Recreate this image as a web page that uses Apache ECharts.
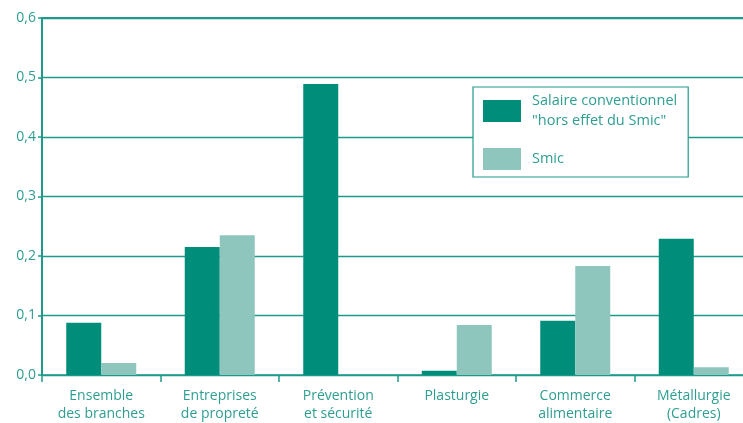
<!DOCTYPE html>
<html>
<head>
<meta charset="utf-8">
<script src="https://cdn.jsdelivr.net/npm/echarts@6/dist/echarts.min.js"></script>
<style>
  html, body { margin: 0; padding: 0; background: #fff; }
  #chart { width: 743px; height: 423px; }
</style>
</head>
<body>
<div id="chart"></div>
<script>
// categories
var categories = ['Ensemble\ndes branches', 'Entreprises\nde propreté', 'Prévention\net sécurité', 'Plasturgie', 'Commerce\nalimentaire', 'Métallurgie\n(Cadres)'];
// series values
var salaireData = [0.088, 0.215, 0.489, 0.007, 0.091, 0.229];
var smicData = [0.020, 0.235, 0, 0.084, 0.183, 0.013];
var seriesNames = ['Salaire conventionnel', 'Smic'];

var teal = '#1e9a8a';
var textColor = '#2e9e90';
var font = '"Open Sans", "Noto Sans", sans-serif';

var chart = echarts.init(document.getElementById('chart'));

var option = {
  animation: false,
  textStyle: { fontFamily: font },
  grid: {
    left: 42,
    width: 711,
    top: 18,
    bottom: 48,
    outerBoundsMode: 'none',
    containLabel: false
  },
  legend: {
    orient: 'vertical',
    left: 473,
    top: 87,
    padding: [1, 11, 5, 10],
    borderColor: teal,
    borderWidth: 1.2,
    backgroundColor: '#fff',
    itemWidth: 38,
    itemHeight: 22,
    itemGap: 12,
    icon: 'rect',
    data: seriesNames,
    formatter: function (name) {
      if (name === 'Salaire conventionnel') return 'Salaire conventionnel\n"hors effet du Smic"';
      return name;
    },
    textStyle: {
      color: textColor,
      fontSize: 14.5,
      lineHeight: 20,
      padding: [6, 0, 0, 6]
    }
  },
  xAxis: [{
    type: 'category',
    data: categories,
    axisLine: { show: true, lineStyle: { color: teal, width: 1.5 } },
    axisTick: { show: true, alignWithLabel: false, length: 7, lineStyle: { color: teal, width: 1.5 } },
    axisLabel: {
      color: textColor,
      fontSize: 14,
      lineHeight: 18,
      margin: 12,
      interval: 0
    },
    splitLine: { show: false }
  }, {
    type: 'category',
    position: 'top',
    data: categories,
    axisLine: { show: true, lineStyle: { color: teal, width: 2 } },
    axisTick: { show: false },
    axisLabel: { show: false }
  }],
  yAxis: {
    type: 'value',
    min: 0,
    max: 0.6,
    interval: 0.1,
    axisLine: { show: true, lineStyle: { color: teal, width: 2 } },
    axisTick: { show: true, length: 4, lineStyle: { color: teal, width: 1.5 } },
    axisLabel: {
      color: textColor,
      fontSize: 14,
      margin: 6,
      formatter: function (v) { return v.toFixed(1).replace('.', ','); }
    },
    splitLine: { show: true, lineStyle: { color: teal, width: 1.3 } }
  },
  series: [{
    name: seriesNames[0],
    type: 'bar',
    barWidth: 35,
    barGap: '0%',
    itemStyle: { color: '#008e7b' },
    data: salaireData
  }, {
    name: seriesNames[1],
    type: 'bar',
    barWidth: 35,
    barGap: '0%',
    itemStyle: { color: '#8ec6be' },
    data: smicData
  }]
};

chart.setOption(option);
</script>
</body>
</html>
